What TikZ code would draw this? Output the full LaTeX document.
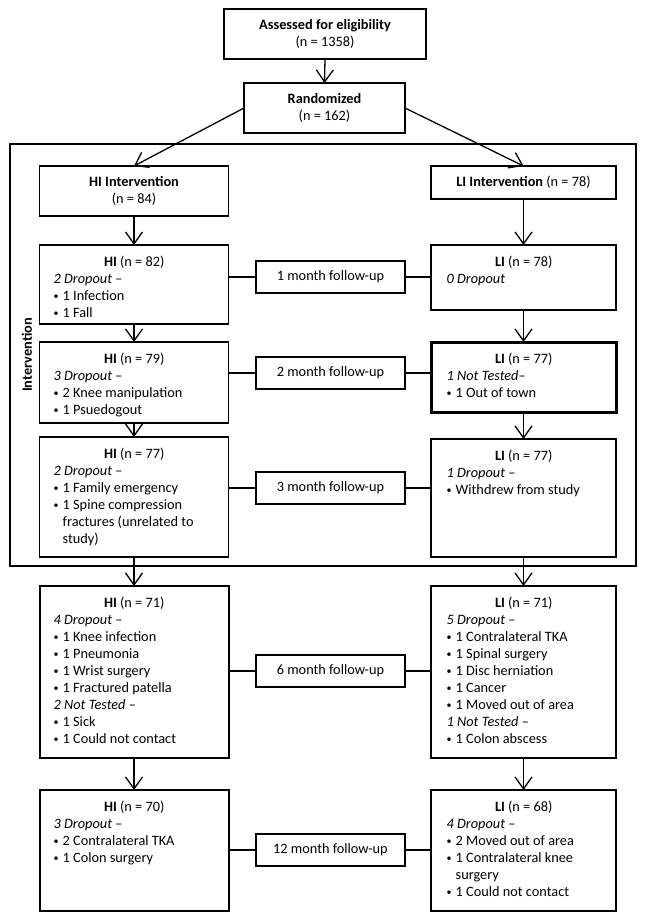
\documentclass[tikz,border=0pt]{standalone}
\usepackage{fontspec}
\setmainfont{Carlito}
\usetikzlibrary{arrows.meta,calc}
\newcommand{\bl}{\makebox[9pt][l]{\raisebox{0.9pt}{\fontsize{10}{10}\selectfont•}}}
\newcommand{\cl}{\hspace*{9pt}}
\newcommand{\flowbox}[9]{%
  \node[box,#6,minimum width=#4pt,minimum height=#5pt,anchor=north west] (#1) at (#2,#3) {};
  \node[inner sep=0pt,anchor=north west] (#1t) at ($(#1.north west)+(#7,9.7)$)
    {\parbox[t]{\dimexpr#4pt-#7pt-#7pt\relax}{\raggedright{\centering\strut#8\par}#9}};
}
\begin{document}
\begin{tikzpicture}[x=1pt,y=-1pt,
  every node/.style={font=\fontsize{14.3}{17}\selectfont},
  box/.style={draw,line width=1.7pt,inner sep=0pt,outer sep=0pt},
  thickbox/.style={line width=3pt},
  lowbox/.style={line width=2pt},
  fubox/.style={draw,line width=1.4pt,inner sep=0pt,outer sep=0pt,minimum width=149pt,minimum height=32pt,anchor=north west},
  arr/.style={line width=1.3pt,-{Straight Barb[length=12pt,width=17pt]}},
  link/.style={line width=1.3pt},
  bigbox/.style={draw,line width=1.7pt,inner sep=0pt,outer sep=0pt,align=center,anchor=north west}]
\fill[white] (0,0) rectangle (645,921);
\useasboundingbox (0,0) rectangle (645,921);

% outer intervention frame
\node[draw,line width=1.9pt,inner sep=0pt,outer sep=0pt,minimum width=626pt,minimum height=422pt,anchor=north west] (outer) at (10,144) {};
\node[rotate=90,font=\fontsize{14.3}{17}\selectfont\bfseries] (intlabel) at (27,355) {Intervention};

% top boxes
\node[bigbox,minimum width=202pt,minimum height=50pt] (assessed) at (224,9) {\textbf{Assessed for eligibility}\\(n = 1358)};
\node[bigbox,minimum width=161pt,minimum height=50pt] (randomized) at (244,83) {\textbf{Randomized}\\(n = 162)};
\node[bigbox,minimum width=189pt,minimum height=50pt] (hiint) at (39.5,166) {\textbf{HI Intervention}\\(n = 84)};
\node[bigbox,minimum width=185pt,minimum height=33pt] (liint) at (431,166) {\textbf{LI Intervention} (n = 78)};

% HI column
\flowbox{hi82}{39.5}{245}{189}{79}{}{14}{\textbf{HI} (n = 82)}{\textit{2 Dropout} –\par\bl 1 Infection\par\bl 1 Fall}
\flowbox{hi79}{39.5}{342}{189}{81}{}{14}{\textbf{HI} (n = 79)}{\textit{3 Dropout} –\par\bl 2 Knee manipulation\par\bl 1 Psuedogout}
\flowbox{hi77}{39.5}{437}{189}{120}{}{14}{\textbf{HI} (n = 77)}{\textit{2 Dropout} –\par\bl 1 Family emergency\par\bl 1 Spine compression\par\cl fractures (unrelated to\par\cl study)}
\flowbox{hi71}{39.5}{586}{189}{172}{lowbox}{14}{\textbf{HI} (n = 71)}{\textit{4 Dropout} –\par\bl 1 Knee infection\par\bl 1 Pneumonia\par\bl 1 Wrist surgery\par\bl 1 Fractured patella\par\textit{2 Not Tested} –\par\bl 1 Sick\par\bl 1 Could not contact}
\flowbox{hi70}{39.5}{790}{189}{121}{lowbox}{14}{\textbf{HI} (n = 70)}{\textit{3 Dropout} –\par\bl 2 Contralateral TKA\par\bl 1 Colon surgery}

% LI column
\flowbox{li78}{431}{245}{185}{65}{}{15.5}{\textbf{LI} (n = 78)}{\textit{0 Dropout}}
\flowbox{li77}{431}{342}{185}{70}{thickbox}{15.5}{\textbf{LI} (n = 77)}{\textit{1 Not Tested}–\par\bl 1 Out of town}
\flowbox{li77b}{431}{439}{185}{118}{}{15.5}{\textbf{LI} (n = 77)}{\textit{1 Dropout} –\par\bl Withdrew from study}
\flowbox{li71}{431}{586}{185}{172}{lowbox}{15.5}{\textbf{LI} (n = 71)}{\textit{5 Dropout} –\par\bl 1 Contralateral TKA\par\bl 1 Spinal surgery\par\bl 1 Disc herniation\par\bl 1 Cancer\par\bl 1 Moved out of area\par\textit{1 Not Tested} –\par\bl 1 Colon abscess}
\flowbox{li68}{431}{790}{185}{121}{lowbox}{15.5}{\textbf{LI} (n = 68)}{\textit{4 Dropout} –\par\bl 2 Moved out of area\par\bl 1 Contralateral knee\par\cl surgery\par\bl 1 Could not contact}

% follow-up boxes
\node[fubox] (fu1) at (256,261) {1 month follow-up};
\node[fubox] (fu2) at (256,357) {2 month follow-up};
\node[fubox] (fu3) at (256,472) {3 month follow-up};
\node[fubox] (fu6) at (256,655) {6 month follow-up};
\node[fubox] (fu12) at (256,834) {12 month follow-up};

% arrows
\draw[arr] (assessed.south) -- (randomized.north);
\draw[arr] (randomized.west) -- (hiint.north);
\draw[arr] (randomized.east) -- (liint.north);
\draw[arr] (hiint.south) -- (hi82.north);
\draw[arr] (hi82.south) -- (hi79.north);
\draw[arr] (hi79.south) -- (hi77.north);
\draw[arr] (hi77.south) -- (hi71.north);
\draw[arr] (hi71.south) -- (hi70.north);
\draw[arr] (liint.south) -- (li78.north);
\draw[arr] (li78.south) -- (li77.north);
\draw[arr] (li77.south) -- (li77b.north);
\draw[arr] (li77b.south) -- (li71.north);
\draw[arr] (li71.south) -- (li68.north);

% follow-up links
\foreach \h/\f/\l in {hi82/fu1/li78, hi79/fu2/li77, hi77/fu3/li77b, hi71/fu6/li71, hi70/fu12/li68}{
  \draw[link] (\h.east |- \f.west) -- (\f.west);
  \draw[link] (\f.east) -- (\l.west |- \f.east);
}
\end{tikzpicture}
\end{document}
